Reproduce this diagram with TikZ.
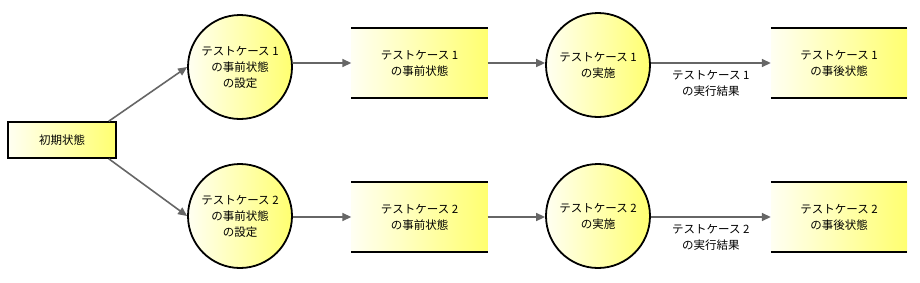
\documentclass[tikz,border=0pt]{standalone}
\usepackage{fontspec}
\newfontfamily\jp{Noto Sans CJK JP}
\usetikzlibrary{arrows.meta}
\definecolor{arrowgray}{HTML}{666666}
\definecolor{paleY}{HTML}{FFFFF2}
\definecolor{deepY}{HTML}{FFFF70}
\tikzset{
  txt/.style={font=\jp\fontsize{11.5}{16}\selectfont, align=center},
  initbox/.style={txt, draw=black, line width=1.6pt, minimum width=108pt, minimum height=36pt, left color=paleY, right color=deepY},
  proc/.style={txt, circle, draw=black, line width=1.8pt, minimum size=104pt, inner sep=0pt, left color=paleY, right color=deepY},
  store/.style={txt, minimum width=136pt, minimum height=70pt, inner sep=0pt, left color=paleY, right color=deepY},
  storeline/.style={line width=2.2pt, black},
  flow/.style={draw=arrowgray, line width=1.6pt, -{Triangle[length=9pt,width=8pt]}},
}
\begin{document}
\begin{tikzpicture}[x=1pt,y=-1pt]
\useasboundingbox (0,0) rectangle (920,282);
\node[initbox] (init) at (62,140) {初期状態};
% top row
\node[proc] (c1) at (240,67) {テストケース 1\\の事前状態\\の設定};
\node[store] (s1) at (419.5,63) {テストケース 1\\の事前状態};
\node[proc] (e1) at (598,65) {テストケース 1\\の実施};
\node[store] (r1) at (839,63) {テストケース 1\\の事後状態};
% bottom row
\node[proc] (c2) at (240,216) {テストケース 2\\の事前状態\\の設定};
\node[store] (s2) at (419.5,217) {テストケース 2\\の事前状態};
\node[proc] (e2) at (598,216) {テストケース 2\\の実施};
\node[store] (r2) at (839,217) {テストケース 2\\の事後状態};
% store lines
\foreach \s in {s1,r1,s2,r2}{
  \draw[storeline] (\s.north west) -- (\s.north east);
  \draw[storeline] (\s.south west) -- (\s.south east);
}
% connectors
\draw[flow] ([xshift=-8pt]init.north east) -- (c1.west);
\draw[flow] ([xshift=-8pt]init.south east) -- (c2.west);
\draw[flow] (c1.east |- s1.west) -- (s1.west);
\draw[flow] (s1.east) -- (e1.west |- s1.east);
\draw[flow] (e1.east |- r1.west) -- node[txt, below=3pt] {テストケース 1\\の実行結果} (r1.west);
\draw[flow] (c2.east |- s2.west) -- (s2.west);
\draw[flow] (s2.east) -- (e2.west |- s2.east);
\draw[flow] (e2.east |- r2.west) -- node[txt, below=3pt] {テストケース 2\\の実行結果} (r2.west);
\end{tikzpicture}
\end{document}
